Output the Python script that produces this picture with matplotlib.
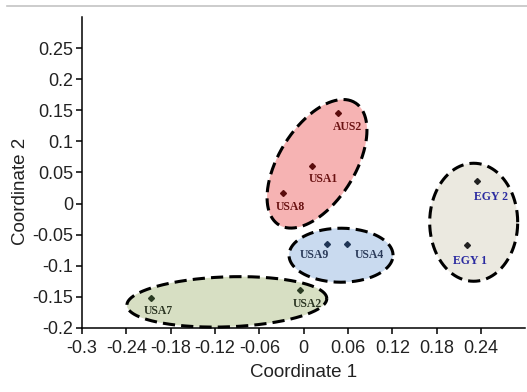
import numpy as np
import matplotlib
matplotlib.use("Agg")
import matplotlib.pyplot as plt
from matplotlib.lines import Line2D

# sample coordinates
names = ["AUS2", "USA1", "USA8", "USA9", "USA4", "EGY 2", "EGY 1", "USA7", "USA2"]
coord1 = [0.047, 0.011, -0.028, 0.031, 0.058, 0.234, 0.221, -0.207, -0.005]
coord2 = [0.145, 0.060, 0.017, -0.065, -0.065, 0.036, -0.066, -0.151, -0.139]
group = [0, 0, 0, 1, 1, 2, 2, 3, 3]

# group styles: fill, marker colour, label colour
fills = ["#f6b3b3", "#c9daef", "#ebe9e0", "#d7dfc3"]
mcols = ["#5a0c0c", "#1f3555", "#222222", "#2a3a22"]
lcols = ["#6a1212", "#2b3b5a", "#2a2aa0", "#2b3522"]

# ellipses round each group: centre (data), semi-axes (px), angle (deg)
ell_cx = [0.018, 0.0505, 0.230, -0.104]
ell_cy = [0.064, -0.083, -0.030, -0.158]
ell_a = [72, 52, 44, 100]
ell_b = [38, 27, 59, 25]
ell_ang = [58, 0, 0, 2]

# label offsets in pixels (dx, dy down)
lab_dx = [-6, -3, -7, -27, 8, -3, -14, -7, -7]
lab_dy = [14, 13, 14, 11, 11, 16, 16, 13, 14]

plt.rcParams['font.family'] = ['Liberation Sans', 'DejaVu Sans']

fig = plt.figure(figsize=(5.27, 3.92), dpi=100)
ax = fig.add_axes([0.1556, 0.1633, 0.8414, 0.7933])
ax.set_xlim(-0.3, 0.3)
ax.set_ylim(-0.2, 0.3)

# gray rule at the top of the picture
fig.add_artist(Line2D([0.013, 1.0], [0.985, 0.985], transform=fig.transFigure,
                      color="#c4c4c4", lw=1.2))

to_disp = ax.transData.transform
to_data = ax.transData.inverted().transform
t = np.linspace(0, 2 * np.pi, 400)
for i in range(len(ell_cx)):
    px, py = to_disp((ell_cx[i], ell_cy[i]))
    th = np.deg2rad(ell_ang[i])
    u = ell_a[i] * np.cos(t)
    v = ell_b[i] * np.sin(t)
    dx = u * np.cos(th) - v * np.sin(th)
    dy = u * np.sin(th) + v * np.cos(th)
    pts = to_data(np.column_stack([px + dx, py + dy]))
    ax.fill(pts[:, 0], pts[:, 1], color=fills[i], lw=0, zorder=1)
    ax.plot(pts[:, 0], pts[:, 1], color="black", lw=2.2,
            linestyle=(0, (4, 2)), zorder=2, clip_on=False)

for i in range(len(names)):
    g = group[i]
    ax.plot(coord1[i], coord2[i], marker="D", ms=3.0, color=mcols[g],
            ls="none", zorder=3)
    ax.annotate(names[i], (coord1[i], coord2[i]), xytext=(lab_dx[i] * 0.72, -lab_dy[i] * 0.72),
                textcoords="offset points", ha="left", va="center",
                fontsize=8.5, fontweight="bold", color=lcols[g],
                family=["Liberation Serif", "DejaVu Serif"], zorder=4)

ax.spines["top"].set_visible(False)
ax.spines["right"].set_visible(False)
ax.spines["left"].set_linewidth(1.1)
ax.spines["bottom"].set_linewidth(1.1)

ax.set_xticks([-0.3, -0.24, -0.18, -0.12, -0.06, 0, 0.06, 0.12, 0.18, 0.24])
ax.set_xticklabels(["-0.3", "-0.24", "-0.18", "-0.12", "-0.06", "0", "0.06", "0.12", "0.18", "0.24"])
ax.set_yticks([-0.2, -0.15, -0.1, -0.05, 0, 0.05, 0.1, 0.15, 0.2, 0.25])
ax.set_yticklabels(["-0.2", "-0.15", "-0.1", "-0.05", "0", "0.05", "0.1", "0.15", "0.2", "0.25"])
ax.tick_params(direction="out", length=4.5, width=1.1, labelsize=13,
               labelcolor="#222222")
ax.tick_params(axis="x", pad=4)
ax.tick_params(axis="y", pad=2)

ax.set_xlabel("Coordinate 1", fontsize=13.5, color="#222222", labelpad=5)
ax.set_ylabel("Coordinate 2", fontsize=13.5, color="#222222")
ax.yaxis.set_label_coords(-0.12, 0.44)

fig.savefig("out.png", dpi=100)
